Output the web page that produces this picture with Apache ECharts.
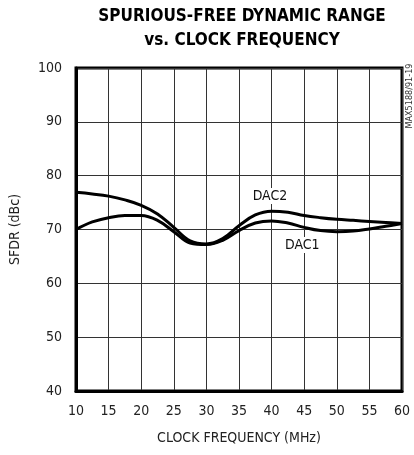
<!DOCTYPE html>
<html>
<head>
    <meta charset="utf-8">
    <title>SFDR vs Clock Frequency</title>
    <script src="https://cdn.jsdelivr.net/npm/echarts@6/dist/echarts.min.js"></script>
    <style>
        html, body { margin: 0; padding: 0; background: #fff; }
        #main { width: 414px; height: 455px; }
    </style>
</head>
<body>
    <div id="main"></div>
    <script type="text/javascript">
// clock frequency (MHz)
var freq = [10, 12.5, 15, 17.5, 20, 22.5, 25, 27.5, 30, 32.5, 35, 37.5, 40, 42.5, 45, 47.5, 50, 52.5, 55, 57.5, 60];
// SFDR (dBc)
var dac2 = [76.9, 76.6, 76.2, 75.5, 74.5, 72.9, 70.4, 67.9, 67.3, 68.3, 70.7, 72.7, 73.4, 73.2, 72.6, 72.2, 71.9, 71.7, 71.5, 71.3, 71.1];
var dac1 = [70.0, 71.4, 72.2, 72.6, 72.6, 71.7, 69.6, 67.5, 67.2, 68.0, 69.8, 71.2, 71.6, 71.2, 70.4, 69.8, 69.6, 69.7, 70.1, 70.6, 71.1];
var xTicks = [10, 15, 20, 25, 30, 35, 40, 45, 50, 55, 60];
var yTicks = [40, 50, 60, 70, 80, 90, 100];

var font = '"DejaVu Sans Condensed", "Liberation Sans Narrow", sans-serif';

function pairs(xs, ys) {
    var out = [];
    for (var i = 0; i < xs.length; i++) out.push([xs[i], ys[i]]);
    return out;
}

function curveLabel(name, at) {
    return {
        symbol: 'circle',
        symbolSize: 0,
        silent: true,
        label: {
            show: true,
            position: 'inside',
            formatter: name,
            color: '#111',
            fontFamily: font,
            fontSize: 14,
            backgroundColor: '#fff',
            padding: [1, 2]
        },
        data: [{ coord: at }]
    };
}

var myChart = echarts.init(document.getElementById('main'));

var option = {
    animation: false,
    textStyle: { fontFamily: font },
    title: {
        text: 'SPURIOUS-FREE DYNAMIC RANGE\nvs. CLOCK FREQUENCY',
        left: 237,
        top: 0,
        textAlign: 'center',
        textStyle: {
            fontFamily: font,
            fontWeight: 'bold',
            fontSize: 17,
            lineHeight: 24,
            color: '#000'
        }
    },
    grid: {
        left: 76, right: 12, top: 68, bottom: 64,
        show: true,
        borderColor: '#000',
        borderWidth: 3,
        backgroundColor: '#fff'
    },
    xAxis: {
        type: 'value',
        min: 10, max: 60, interval: 5,
        name: 'CLOCK FREQUENCY (MHz)',
        nameLocation: 'middle',
        nameGap: 40,
        nameTextStyle: { fontFamily: font, fontSize: 14, color: '#222' },
        axisLine: { show: true, lineStyle: { color: '#000', width: 3 } },
        axisTick: { show: false },
        axisLabel: {
            color: '#222', fontFamily: font, fontSize: 14, margin: 13,
            formatter: function (v) { return xTicks.indexOf(v) >= 0 ? String(v) : ''; }
        },
        splitLine: { show: true, lineStyle: { color: '#333', width: 1 } }
    },
    yAxis: {
        type: 'value',
        min: 40, max: 100, interval: 10,
        name: 'SFDR (dBc)',
        nameLocation: 'middle',
        nameGap: 54,
        nameRotate: 90,
        nameTextStyle: { fontFamily: font, fontSize: 14, color: '#222' },
        axisLine: { show: true, lineStyle: { color: '#000', width: 3 } },
        axisTick: { show: false },
        axisLabel: {
            color: '#222', fontFamily: font, fontSize: 14, margin: 14,
            formatter: function (v) { return yTicks.indexOf(v) >= 0 ? String(v) : ''; }
        },
        splitLine: { show: true, lineStyle: { color: '#333', width: 1 } }
    },
    graphic: [{
        type: 'text',
        x: 405,
        y: 96,
        rotation: Math.PI / 2,
        style: {
            text: 'MAX5188/91-19',
            fontFamily: font,
            fontSize: 9,
            fill: '#333',
            textAlign: 'center',
            textVerticalAlign: 'top'
        }
    }],
    series: [
        {
            name: 'DAC2',
            type: 'line',
            data: pairs(freq, dac2),
            smooth: 0.4,
            showSymbol: false,
            lineStyle: { color: '#000', width: 3 },
            z: 3,
            markPoint: curveLabel('DAC2', [39.75, 76.2])
        },
        {
            name: 'DAC1',
            type: 'line',
            data: pairs(freq, dac1),
            smooth: 0.4,
            showSymbol: false,
            lineStyle: { color: '#000', width: 3 },
            z: 3,
            markPoint: curveLabel('DAC1', [44.7, 67.1])
        }
    ]
};

myChart.setOption(option);
    </script>
</body>
</html>
